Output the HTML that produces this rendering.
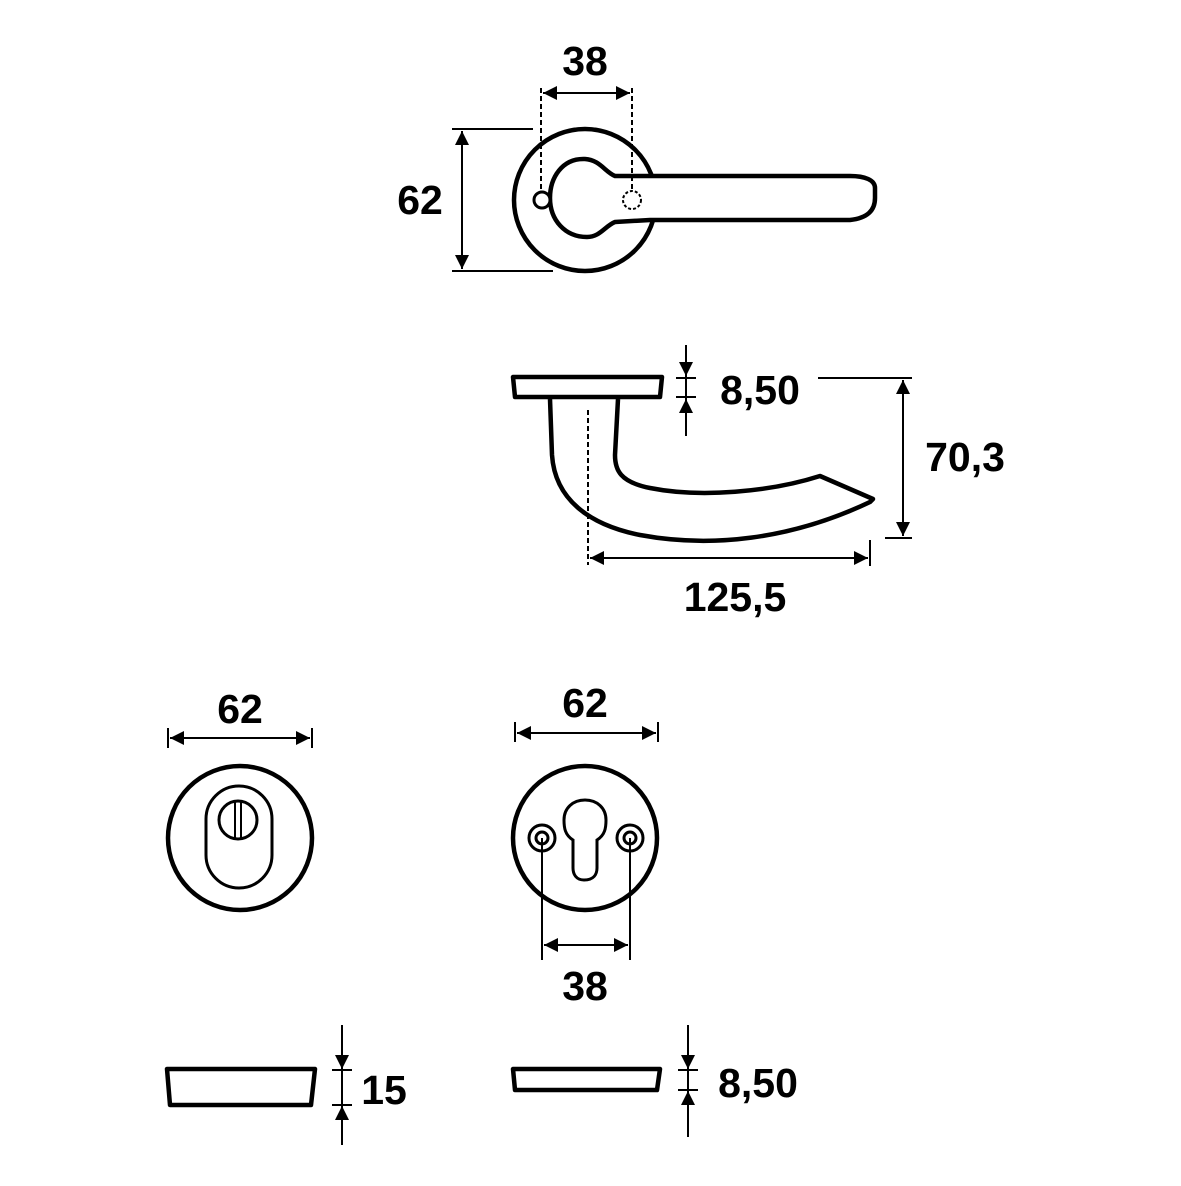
<!DOCTYPE html>
<html><head><meta charset="utf-8"><style>html,body{margin:0;padding:0;background:#fff}</style></head>
<body>
<svg width="1181" height="1181" viewBox="0 0 1181 1181" xmlns="http://www.w3.org/2000/svg">
<defs>
<marker id="a" viewBox="0 0 10 10" refX="10" refY="5" markerWidth="16" markerHeight="14" markerUnits="userSpaceOnUse" orient="auto-start-reverse"><path d="M0,0L10,5L0,10z" fill="#000"/></marker>
<marker id="b" viewBox="0 0 10 10" refX="10" refY="5" markerWidth="24" markerHeight="14" markerUnits="userSpaceOnUse" orient="auto-start-reverse"><path d="M0,0L10,5L0,10z" fill="#000"/></marker>
</defs>
<g font-family="Liberation Sans, sans-serif" font-weight="bold" font-size="41" fill="#000" text-anchor="middle">
<text x="585" y="75">38</text>
<text x="420" y="214">62</text>
<text x="760" y="404">8,50</text>
<text x="965" y="471">70,3</text>
<text x="735" y="611">125,5</text>
<text x="240" y="723">62</text>
<text x="585" y="717">62</text>
<text x="585" y="1000">38</text>
<text x="384" y="1104">15</text>
<text x="758" y="1097">8,50</text>
</g>
<g fill="none" stroke="#000" stroke-width="4.5" stroke-linejoin="round">
<circle cx="585" cy="200" r="71"/>
<path d="M615,176 C605,172 600,160 585,159 C562,158 550,178 550,198 C550,220 565,237 587,237 C600,237 605,226 615,222 L650,220 L850,220 C868,218 875,210 875,198 L875,188 C875,180 865,176 850,176 L650,176 Z" fill="#fff"/>
<circle cx="542" cy="200" r="8" stroke-width="3" fill="#fff"/>
<path d="M513,377 L662,377 L660,397 L515,397 Z"/>
<path d="M550,399 L552,455 C555,500 590,525 640,535 C710,548 790,540 870,502 L873,499 L820,476 C770,492 700,498 650,488 C620,482 615,470 615,455 L618,399"/>
<circle cx="240" cy="838" r="72"/>
<circle cx="585" cy="838" r="72"/>
<path d="M167,1069 L315,1069 L311,1105 L170,1105 Z"/>
<path d="M513,1069 L660,1069 L657,1090 L515,1090 Z"/>
</g>
<g fill="none" stroke="#000" stroke-width="3">
<rect x="206" y="786" width="66" height="102" rx="33" ry="33"/>
<circle cx="238" cy="820" r="19"/>
<path d="M584,880 C576,880 573,874 573,868 L573,840 C565,835 564,828 564,820 C564,808 573,800 585,800 C597,800 606,808 606,820 C606,828 605,835 597,840 L597,868 C597,874 594,880 584,880 Z"/>
<circle cx="542" cy="838" r="13"/><circle cx="542" cy="838" r="6"/>
<circle cx="630" cy="838" r="13"/><circle cx="630" cy="838" r="6"/>
</g>
<g stroke="#000" stroke-width="2" fill="none">
<line x1="235" y1="802" x2="235" y2="838"/><line x1="241" y1="802" x2="241" y2="838"/>
<line x1="541" y1="88" x2="541" y2="192" stroke-dasharray="5,3"/>
<line x1="632" y1="88" x2="632" y2="190" stroke-dasharray="5,3"/>
<circle cx="632" cy="200" r="9" stroke-dasharray="3,2"/>
<line x1="543" y1="93" x2="630" y2="93" marker-start="url(#b)" marker-end="url(#b)"/>
<line x1="452" y1="129" x2="533" y2="129"/>
<line x1="452" y1="271" x2="553" y2="271"/>
<line x1="462" y1="131" x2="462" y2="269" marker-start="url(#b)" marker-end="url(#b)"/>
<line x1="588" y1="410" x2="588" y2="565" stroke-dasharray="5,3"/>
<line x1="590" y1="558" x2="868" y2="558" marker-start="url(#b)" marker-end="url(#b)"/>
<line x1="870" y1="540" x2="870" y2="566"/>
<line x1="686" y1="345" x2="686" y2="376" marker-end="url(#a)"/>
<line x1="686" y1="436" x2="686" y2="399" marker-end="url(#a)"/>
<line x1="686" y1="376" x2="686" y2="399"/>
<line x1="676" y1="378" x2="696" y2="378"/><line x1="676" y1="397" x2="696" y2="397"/>
<line x1="818" y1="378" x2="912" y2="378"/>
<line x1="885" y1="538" x2="912" y2="538"/>
<line x1="903" y1="380" x2="903" y2="536" marker-start="url(#b)" marker-end="url(#b)"/>
<line x1="168" y1="728" x2="168" y2="748"/><line x1="312" y1="728" x2="312" y2="748"/>
<line x1="170" y1="738" x2="310" y2="738" marker-start="url(#b)" marker-end="url(#b)"/>
<line x1="515" y1="722" x2="515" y2="742"/><line x1="658" y1="722" x2="658" y2="742"/>
<line x1="517" y1="733" x2="656" y2="733" marker-start="url(#b)" marker-end="url(#b)"/>
<line x1="542" y1="838" x2="542" y2="960"/><line x1="630" y1="838" x2="630" y2="960"/>
<line x1="544" y1="945" x2="628" y2="945" marker-start="url(#b)" marker-end="url(#b)"/>
<line x1="342" y1="1025" x2="342" y2="1069" marker-end="url(#a)"/>
<line x1="342" y1="1145" x2="342" y2="1106" marker-end="url(#a)"/>
<line x1="342" y1="1069" x2="342" y2="1106"/>
<line x1="332" y1="1070" x2="352" y2="1070"/><line x1="332" y1="1105" x2="352" y2="1105"/>
<line x1="688" y1="1025" x2="688" y2="1069" marker-end="url(#a)"/>
<line x1="688" y1="1137" x2="688" y2="1091" marker-end="url(#a)"/>
<line x1="688" y1="1069" x2="688" y2="1091"/>
<line x1="678" y1="1070" x2="698" y2="1070"/><line x1="678" y1="1090" x2="698" y2="1090"/>
</g>
</svg>
</body></html>
